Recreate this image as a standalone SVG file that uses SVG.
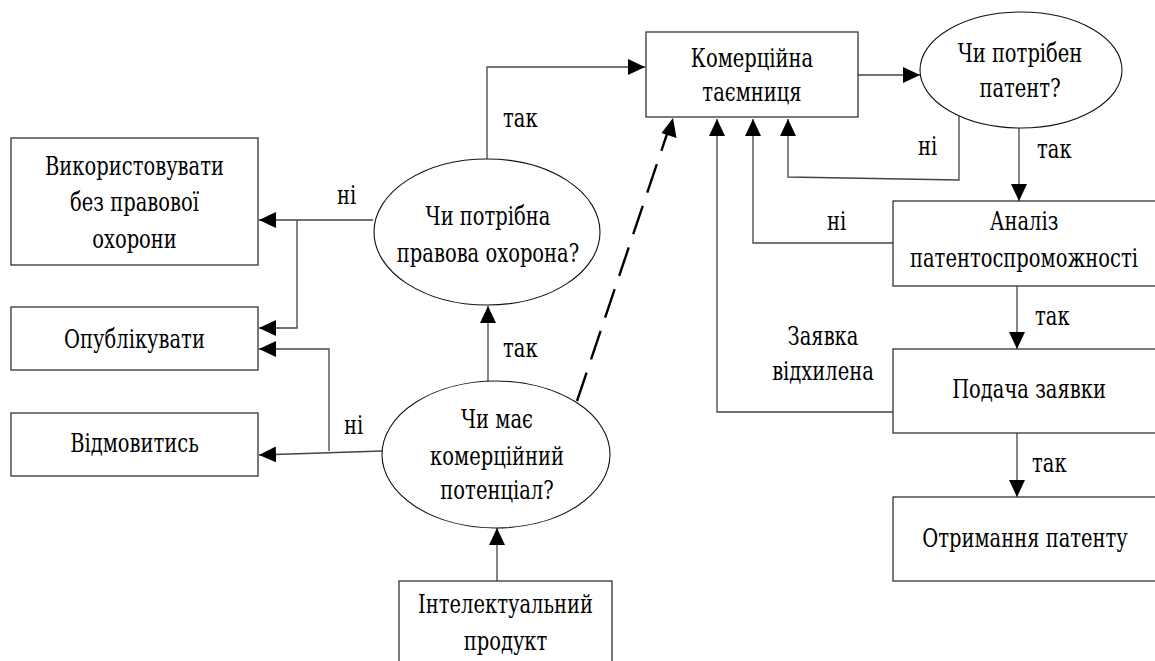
<svg xmlns="http://www.w3.org/2000/svg" width="1155" height="661" viewBox="0 0 1155 661">
<style>
.box{fill:#fff;stroke:#333;stroke-width:1.3}
.ell{fill:#fff;stroke:#111;stroke-width:1.1}
text{font-family:'DejaVu Serif','Noto Serif','FreeSerif','Tinos','Liberation Serif',serif;font-size:26px;fill:#000}
.t{text-anchor:middle}
.c{fill:none;stroke:#444;stroke-width:1.3}
.d{fill:none;stroke:#000;stroke-width:2.4;stroke-dasharray:30 14}
</style>
<defs>
<marker id="ah" markerUnits="userSpaceOnUse" markerWidth="18" markerHeight="16" refX="17" refY="8" orient="auto">
<path d="M0,0 L17,8 L0,16 z" fill="#000"/>
</marker>
</defs>
<rect width="1155" height="661" fill="#fff"/>
<g id="connectors">
<path class="c" d="M373,220 L259,220" marker-end="url(#ah)"/>
<path class="c" d="M297,220 L297,328 L259,328" marker-end="url(#ah)"/>
<path class="c" d="M382,451 L259,455" marker-end="url(#ah)"/>
<path class="c" d="M329,451 L329,349 L259,349" marker-end="url(#ah)"/>
<path class="c" d="M488,381 L488,306" marker-end="url(#ah)"/>
<path class="c" d="M497,581 L497,528" marker-end="url(#ah)"/>
<path class="c" d="M487,159 L487,67 L645,67" marker-end="url(#ah)"/>
<path class="d" d="M577,401 L668,131"/>
<path d="M673,118 L676.5,138 L661.5,133 z" fill="#000"/>
<path class="c" d="M858,75 L920,75" marker-end="url(#ah)"/>
<path class="c" d="M959,116 L959,180 L788,177 L788,119" marker-end="url(#ah)"/>
<path class="c" d="M1019,128 L1019,201" marker-end="url(#ah)"/>
<path class="c" d="M893,243 L753,243 L753,119" marker-end="url(#ah)"/>
<path class="c" d="M1017,286 L1017,349" marker-end="url(#ah)"/>
<path class="c" d="M893,412 L717,412 L717,119" marker-end="url(#ah)"/>
<path class="c" d="M1017,433 L1017,497" marker-end="url(#ah)"/>
<text transform="translate(337,204) scale(0.75,1)">ні</text>
<text transform="translate(344,434) scale(0.75,1)">ні</text>
<text transform="translate(503,357) scale(0.75,1)">так</text>
<text transform="translate(503,127) scale(0.75,1)">так</text>
<text transform="translate(918,155) scale(0.75,1)">ні</text>
<text transform="translate(1037,158) scale(0.75,1)">так</text>
<text transform="translate(827,230) scale(0.75,1)">ні</text>
<text transform="translate(1035,325) scale(0.75,1)">так</text>
<text class="t" transform="translate(823,345) scale(0.75,1)">Заявка</text>
<text class="t" transform="translate(823,380) scale(0.75,1)">відхилена</text>
<text transform="translate(1032,472) scale(0.75,1)">так</text>
</g>
<g id="n-use">
<rect class="box" x="11" y="138" width="247" height="127"/>
<text class="t" transform="translate(134.5,175) scale(0.75,1)">Використовувати</text>
<text class="t" transform="translate(134.5,211) scale(0.75,1)">без правової</text>
<text class="t" transform="translate(134.5,248) scale(0.75,1)">охорони</text>
</g>
<g id="n-publish">
<rect class="box" x="11" y="307" width="247" height="63"/>
<text class="t" transform="translate(134.5,348) scale(0.75,1)">Опублікувати</text>
</g>
<g id="n-refuse">
<rect class="box" x="11" y="413" width="247" height="63"/>
<text class="t" transform="translate(134.5,452) scale(0.75,1)">Відмовитись</text>
</g>
<g id="n-protect">
<ellipse class="ell" cx="487" cy="232" rx="113" ry="73"/>
<text class="t" transform="translate(488,225) scale(0.75,1)">Чи потрібна</text>
<text class="t" transform="translate(488,262) scale(0.75,1)">правова охорона?</text>
</g>
<g id="n-potential">
<ellipse class="ell" cx="496" cy="454.5" rx="114" ry="73.5"/>
<text class="t" transform="translate(497,428) scale(0.75,1)">Чи має</text>
<text class="t" transform="translate(497,465) scale(0.75,1)">комерційний</text>
<text class="t" transform="translate(497,499) scale(0.75,1)">потенціал?</text>
</g>
<g id="n-product">
<rect class="box" x="399" y="581" width="213" height="90"/>
<text class="t" transform="translate(505.5,613) scale(0.75,1)">Інтелектуальний</text>
<text class="t" transform="translate(505.5,650) scale(0.75,1)">продукт</text>
</g>
<g id="n-secret">
<rect class="box" x="646" y="32" width="212" height="85"/>
<text class="t" transform="translate(752,67) scale(0.75,1)">Комерційна</text>
<text class="t" transform="translate(752,101) scale(0.75,1)">таємниця</text>
</g>
<g id="n-patent-q">
<ellipse class="ell" cx="1021" cy="70" rx="101" ry="58"/>
<text class="t" transform="translate(1020,62) scale(0.75,1)">Чи потрібен</text>
<text class="t" transform="translate(1020,97) scale(0.75,1)">патент?</text>
</g>
<g id="n-analysis">
<rect class="box" x="893" y="201" width="270" height="85"/>
<text class="t" transform="translate(1024,230) scale(0.75,1)">Аналіз</text>
<text class="t" transform="translate(1024,267) scale(0.75,1)">патентоспроможності</text>
</g>
<g id="n-filing">
<rect class="box" x="893" y="349" width="270" height="84"/>
<text class="t" transform="translate(1029,398) scale(0.75,1)">Подача заявки</text>
</g>
<g id="n-grant">
<rect class="box" x="893" y="497" width="270" height="84"/>
<text class="t" transform="translate(1025,547) scale(0.75,1)">Отримання патенту</text>
</g>
</svg>
